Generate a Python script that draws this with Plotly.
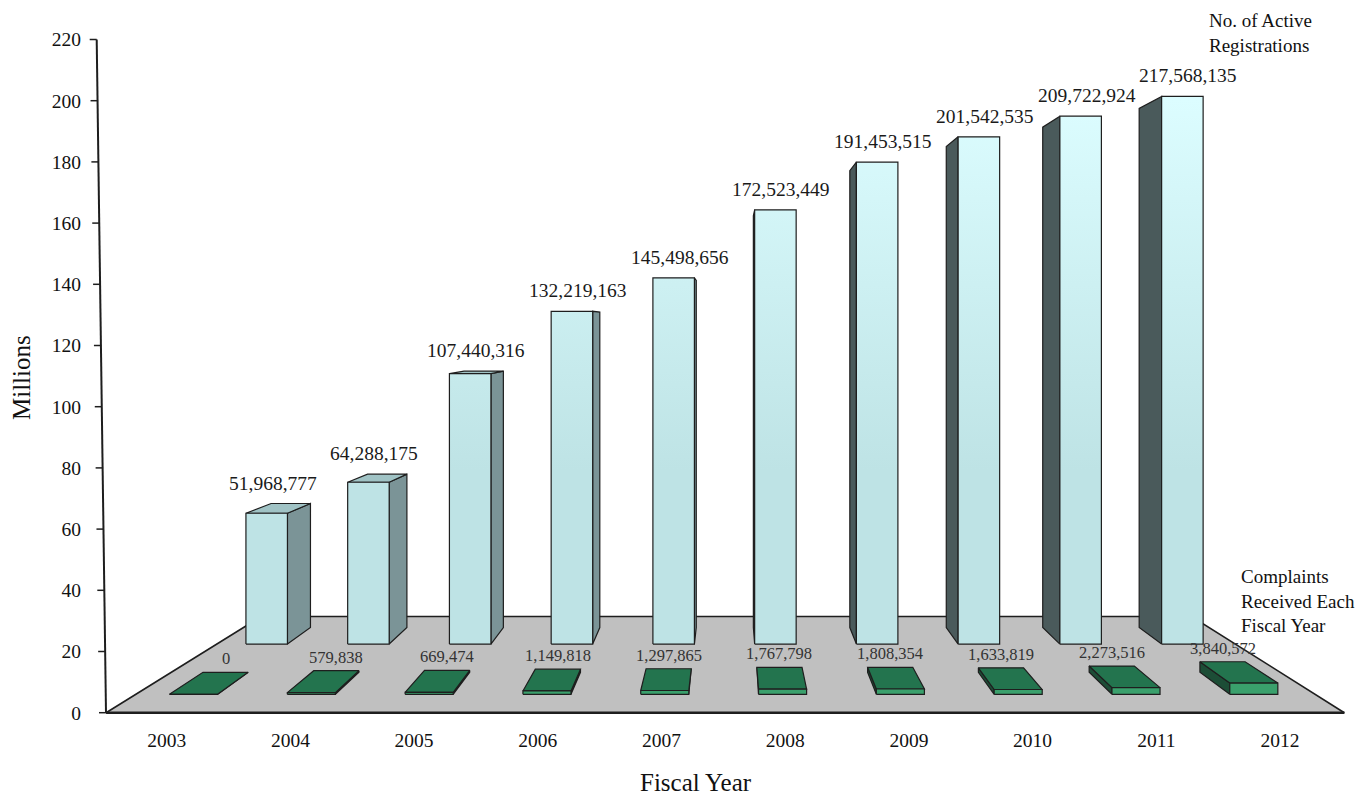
import plotly.graph_objects as go

# ---------------- data ----------------
years = ["2003", "2004", "2005", "2006", "2007", "2008", "2009", "2010", "2011", "2012"]
registrations = [51968777, 64288175, 107440316, 132219163, 145498656,
                 172523449, 191453515, 201542535, 209722924, 217568135]
complaints = [0, 579838, 669474, 1149818, 1297865,
              1767798, 1808354, 1633819, 2273516, 3840572]
y_ticks = [0, 20, 40, 60, 80, 100, 120, 140, 160, 180, 200, 220]

# ---------------- page geometry (page pixels; figure sits at an 8px body offset) ----------------
OFF = 8
FW, FH = 1362, 787
ML, MR, MT, MB = 87, 10, 12, 69
PW, PH = FW - ML - MR, FH - MT - MB

X0PX, XSTEP = 166.7, 123.7   # page pixel of first category, pixels per category
Y0PX, YK = 712.7, 3.06       # page pixel of value 0, pixels per million


def px_to_x(px):
    return (px - X0PX) / XSTEP


def py_to_y(py):
    return (Y0PX - py) / YK


def paper_x(px):
    return (px - OFF - ML) / PW


def paper_y(py):
    return (FH - MB - (py - OFF)) / PH


x_range = [px_to_x(OFF + ML), px_to_x(OFF + FW - MR)]
y_range = [py_to_y(OFF + FH - MB), py_to_y(OFF + MT)]

# ---------------- perspective ----------------
VX, VY = px_to_x(730), py_to_y(326)
FLOOR_L, FLOOR_R, FLOOR_D = -0.49, 9.52, 1.331
BACK_D1, BACK_D2 = 1.2158, 1.2825
FRONT_D1, FRONT_D2 = 1.050, 1.1167
BAR_HW = 0.204


def proj(x, z, d):
    f = 1.0 / d
    return VX + (x - VX) * f, VY + (z - VY) * f


fig = go.Figure()
EDGE = "#1e1e1e"


def poly(pts, fill, width=1.2, grad=None):
    xs = [p[0] for p in pts] + [pts[0][0]]
    ys = [p[1] for p in pts] + [pts[0][1]]
    kw = {}
    if grad is not None:
        kw["fillgradient"] = grad
    fig.add_trace(go.Scatter(x=xs, y=ys, mode="lines", fill="toself", fillcolor=fill,
                             line=dict(color=EDGE, width=width),
                             hoverinfo="skip", showlegend=False, **kw))


def draw_box(xc, h, d1, d2, front, side_l, side_r, top, grad=None):
    xl, xr = xc - BAR_HW, xc + BAR_HW
    if xr < VX:
        poly([proj(xr, 0, d1), proj(xr, 0, d2), proj(xr, h, d2), proj(xr, h, d1)], side_r)
    elif xl > VX:
        poly([proj(xl, 0, d1), proj(xl, 0, d2), proj(xl, h, d2), proj(xl, h, d1)], side_l)
    if h < VY:
        poly([proj(xl, h, d1), proj(xr, h, d1), proj(xr, h, d2), proj(xl, h, d2)], top)
    poly([proj(xl, 0, d1), proj(xr, 0, d1), proj(xr, h, d1), proj(xl, h, d1)], front, grad=grad)


# floor
poly([proj(FLOOR_L, 0, 1), proj(FLOOR_R, 0, 1), proj(FLOOR_R, 0, FLOOR_D), proj(FLOOR_L, 0, FLOOR_D)],
     "#c0c0c0", width=1.6)
fx1, fy1 = proj(FLOOR_L, 0, 1)
fx2, fy2 = proj(FLOOR_R, 0, 1)
fig.add_trace(go.Scatter(x=[fx1, fx2], y=[fy1, fy2], mode="lines",
                         line=dict(color=EDGE, width=2.4), hoverinfo="skip", showlegend=False))

grad_back = dict(type="vertical", colorscale=[[0, "#bee3e5"], [1, "#dcfdff"]],
                 start=py_to_y(470), stop=py_to_y(100))

annotations = []
# back row: active registrations
for i, v in enumerate(registrations):
    h = v / 1e6
    draw_box(i, h, BACK_D1, BACK_D2, "#bee3e5", "#4a5a5b", "#7b9497", "#a0c3c5", grad=grad_back)
    fx, fy = proj(i, h, BACK_D1)
    bx, by = proj(i, h, BACK_D2)
    annotations.append(dict(x=fx, y=max(fy, by), xref="x", yref="y", text=f"{v:,}",
                            showarrow=False, yanchor="bottom", xanchor="center",
                            yshift=8, xshift=6,
                            font=dict(size=19.5, color="#1a1a1a")))

# front row: complaints
for i, v in enumerate(complaints):
    h = v / 1e6
    draw_box(i, h, FRONT_D1, FRONT_D2, "#3aa06c", "#1c4d36", "#1c4d36", "#23744e")
    bx, by = proj(i, h, FRONT_D2)
    annotations.append(dict(x=bx, y=by, xref="x", yref="y", text=f"{v:,}",
                            showarrow=False, yanchor="bottom", xanchor="center", yshift=2,
                            font=dict(size=16.5, color="#333333")))

# slanted value axis with tick marks (decoration in paper space)
shapes = []
AX_BOT, AX_TOP = 106.0, 96.7


def axis_px(v):
    return AX_BOT + (AX_TOP - AX_BOT) * v / 220.0


shapes.append(dict(type="line", xref="paper", yref="paper",
                   x0=paper_x(axis_px(0)), y0=paper_y(Y0PX),
                   x1=paper_x(axis_px(220)), y1=paper_y(Y0PX - 220 * YK),
                   line=dict(color=EDGE, width=2)))
for t in y_ticks:
    py = Y0PX - t * YK
    shapes.append(dict(type="line", xref="paper", yref="paper",
                       x0=paper_x(axis_px(t) - 7), y0=paper_y(py),
                       x1=paper_x(axis_px(t)), y1=paper_y(py),
                       line=dict(color=EDGE, width=1.5)))

# titles and notes
annotations += [
    dict(x=paper_x(22), y=paper_y(378), xref="paper", yref="paper", text="Millions",
         textangle=-90, showarrow=False, xanchor="center", yanchor="middle",
         font=dict(size=25, color="#111")),
    dict(x=paper_x(696), y=paper_y(782), xref="paper", yref="paper", text="Fiscal Year",
         showarrow=False, xanchor="center", yanchor="middle", font=dict(size=25, color="#111")),
    dict(x=paper_x(1207), y=paper_y(33), xref="paper", yref="paper",
         text="No. of Active<br>Registrations", showarrow=False, align="left",
         xanchor="left", yanchor="middle", font=dict(size=19, color="#111")),
    dict(x=paper_x(1239), y=paper_y(601), xref="paper", yref="paper",
         text="Complaints<br>Received Each<br>Fiscal Year", showarrow=False, align="left",
         xanchor="left", yanchor="middle", font=dict(size=19, color="#111")),
]

fig.update_layout(
    width=FW, height=FH,
    margin=dict(l=ML, r=MR, t=MT, b=MB, pad=0),
    paper_bgcolor="white", plot_bgcolor="white",
    font=dict(family="Liberation Serif, Times New Roman, serif", color="#111"),
    hovermode=False,
    showlegend=False,
    shapes=shapes,
    annotations=annotations,
    xaxis=dict(range=x_range, tickvals=list(range(len(years))), ticktext=years,
               showgrid=False, zeroline=False, showline=False, ticks="",
               tickfont=dict(size=19.5, color="#111"), fixedrange=True),
    yaxis=dict(range=y_range, tickvals=y_ticks, showgrid=False, zeroline=False,
               showline=False, ticks="outside", ticklen=9, tickcolor="rgba(0,0,0,0)",
               tickfont=dict(size=19.5, color="#111"), fixedrange=True),
)

fig.write_html("out.html")
